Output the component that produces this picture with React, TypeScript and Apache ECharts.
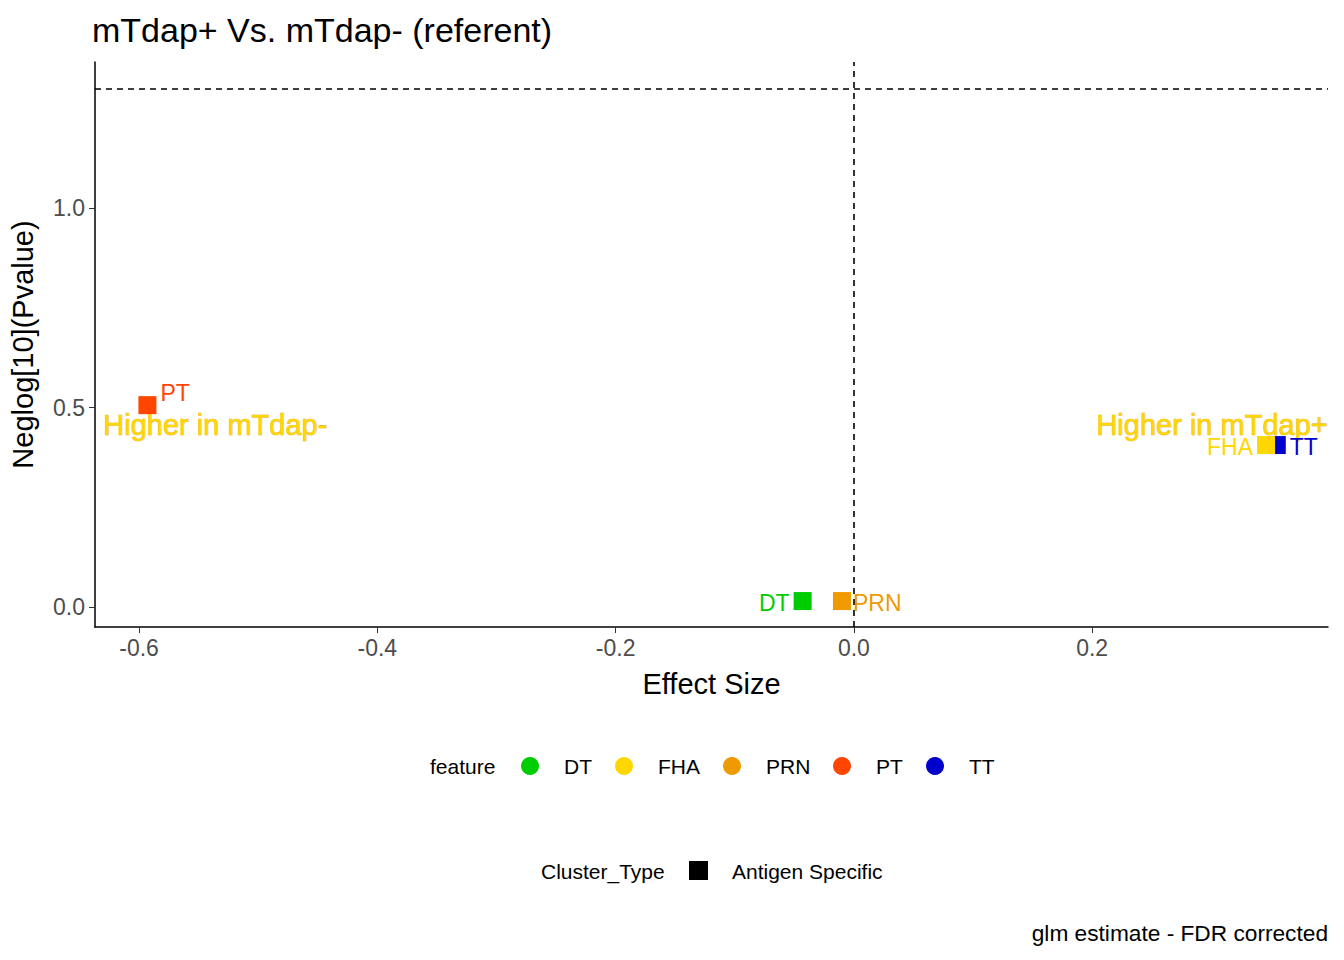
import { useEffect, useRef } from 'react';
import * as echarts from 'echarts';

const FEATURES = ['DT', 'FHA', 'PRN', 'PT', 'TT'];
const COLORS = ['#00CD00', '#FFD700', '#EE9A00', '#FF4500', '#0000CD'];
const EFFECT = [-0.043, 0.346, -0.01, -0.593, 0.355];
const NEGLOG = [0.015, 0.406, 0.015, 0.506, 0.406];
// label side per feature
const LABEL_POS = ['left', 'left', 'right', 'right', 'right'];
const X_TICKS = [-0.6, -0.4, -0.2, 0.0, 0.2];
const Y_TICKS = [0.0, 0.5, 1.0];
const THRESHOLD = 1.301;

const FONT = 'Arial, "Liberation Sans", sans-serif';

export default function App() {
  const ref = useRef<HTMLDivElement>(null);

  useEffect(() => {
    if (!ref.current) return;
    const chart = echarts.init(ref.current, null, { renderer: 'svg' });

    const series: any[] = FEATURES.map((f, i) => ({
      name: f,
      type: 'scatter',
      symbol: 'rect',
      symbolSize: 18,
      itemStyle: { color: COLORS[i], opacity: 1 },
      z: f === 'FHA' ? 3 : 2,
      label: {
        show: true,
        formatter: f,
        position: LABEL_POS[i],
        distance: f === 'PRN' ? 2 : 4,
        offset: f === 'PT' ? [0, -12] : [0, 2],
        color: COLORS[i],
        fontSize: 23,
        fontFamily: FONT,
      },
      data: [[EFFECT[i], NEGLOG[i]]],
    }));

    series.push({
      type: 'scatter',
      data: [],
      markLine: {
        silent: true,
        symbol: 'none',
        label: { show: false },
        lineStyle: { color: '#000', type: [6, 5], width: 1.6 },
        data: [{ xAxis: 0 }, { yAxis: THRESHOLD }],
      },
    });

    const fmt = (v: number) => v.toFixed(1);

    chart.setOption({
      animation: false,
      title: {
        text: 'mTdap+ Vs. mTdap- (referent)',
        left: 87,
        top: 8,
        textStyle: { fontSize: 34, fontWeight: 'normal', color: '#000', fontFamily: FONT },
      },
      grid: { left: 95, top: 62, right: 16, bottom: 333 },
      xAxis: {
        type: 'value',
        min: -0.637,
        max: 0.398,
        name: 'Effect Size',
        nameLocation: 'middle',
        nameGap: 42,
        nameTextStyle: { fontSize: 29, color: '#000', fontFamily: FONT },
        axisLine: { onZero: false, lineStyle: { color: '#000', width: 1.5 } },
        axisTick: { show: true, customValues: X_TICKS, length: 6, lineStyle: { color: '#333' } },
        axisLabel: { customValues: X_TICKS, formatter: fmt, fontSize: 23, color: '#4D4D4D', fontFamily: FONT, margin: 9 },
        splitLine: { show: false },
      },
      yAxis: {
        type: 'value',
        min: -0.05,
        max: 1.366,
        name: 'Neglog[10](Pvalue)',
        nameLocation: 'middle',
        nameGap: 58,
        nameTextStyle: { fontSize: 29, color: '#000', fontFamily: FONT },
        axisLine: { show: true, onZero: false, lineStyle: { color: '#000', width: 1.5 } },
        axisTick: { show: true, customValues: Y_TICKS, length: 6, lineStyle: { color: '#333' } },
        axisLabel: { customValues: Y_TICKS, formatter: fmt, fontSize: 23, color: '#4D4D4D', fontFamily: FONT, margin: 10 },
        splitLine: { show: false },
      },
      series,
      graphic: [
        { type: 'text', left: 103, top: 410, style: { text: 'Higher in mTdap-', fontSize: 29, fill: '#FFD700', stroke: '#E0A000', lineWidth: 0.6, fontFamily: FONT } },
        { type: 'text', right: 16, top: 410, style: { text: 'Higher in mTdap+', fontSize: 29, fill: '#FFD700', stroke: '#E0A000', lineWidth: 0.6, fontFamily: FONT } },
        { type: 'text', left: 430, top: 756, style: { text: 'feature', fontSize: 21, fill: '#000', fontFamily: FONT } },
        ...FEATURES.flatMap((f, i) => {
          const x0 = [530, 624, 732, 842, 935][i];
          return [
            { type: 'circle', shape: { cx: x0, cy: 766, r: 9 }, style: { fill: COLORS[i] } },
            { type: 'text', left: x0 + 34, top: 756, style: { text: f, fontSize: 21, fill: '#000', fontFamily: FONT } },
          ];
        }),
        { type: 'text', left: 541, top: 861, style: { text: 'Cluster_Type', fontSize: 21, fill: '#000', fontFamily: FONT } },
        { type: 'rect', shape: { x: 689, y: 861, width: 19, height: 19 }, style: { fill: '#000' } },
        { type: 'text', left: 732, top: 861, style: { text: 'Antigen Specific', fontSize: 21, fill: '#000', fontFamily: FONT } },
        { type: 'text', right: 16, top: 921, style: { text: 'glm estimate - FDR corrected', fontSize: 22.7, fill: '#000', fontFamily: FONT } },
      ],
    });

    return () => chart.dispose();
  }, []);

  return <div ref={ref} style={{ width: 1344, height: 960, margin: -8, background: '#fff' }} />;
}
